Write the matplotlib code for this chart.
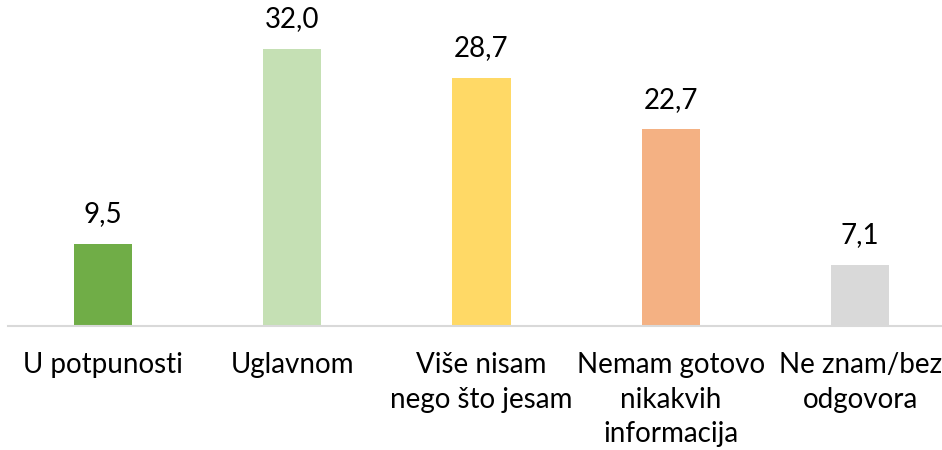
import matplotlib.pyplot as plt

categories = ['U potpunosti', 'Uglavnom', 'Više nisam\nnego što jesam',
              'Nemam gotovo\nnikakvih\ninformacija', 'Ne znam/bez\nodgovora']
values = [9.5, 32.0, 28.7, 22.7, 7.1]
colors = ['#70AD47', '#C5E0B4', '#FFD966', '#F4B183', '#D9D9D9']

plt.rcParams['font.family'] = ['Lato', 'DejaVu Sans']

fig = plt.figure(figsize=(9.42, 4.5), dpi=100)
ax = fig.add_axes([8 / 942, 124 / 450, 947 / 942, 303 / 450])

x = range(len(values))
bars = ax.bar(x, values, width=0.307, color=colors)

for xi, v in zip(x, values):
    ax.text(xi, v + 1.9, f'{v:.1f}'.replace('.', ','), ha='center', va='bottom',
            fontsize=20, color='#000000')

ax.set_xlim(-0.5, 4.5)
ax.set_ylim(0, 35)
ax.set_xticks(list(x))
ax.set_xticklabels(categories, fontsize=20, linespacing=1.4)
ax.tick_params(axis='x', length=0, pad=19)
ax.set_yticks([])
for s in ['top', 'right', 'left']:
    ax.spines[s].set_visible(False)
ax.spines['bottom'].set_color('#D9D9D9')
ax.spines['bottom'].set_linewidth(1.5)

fig.savefig('out.png', dpi=100)
